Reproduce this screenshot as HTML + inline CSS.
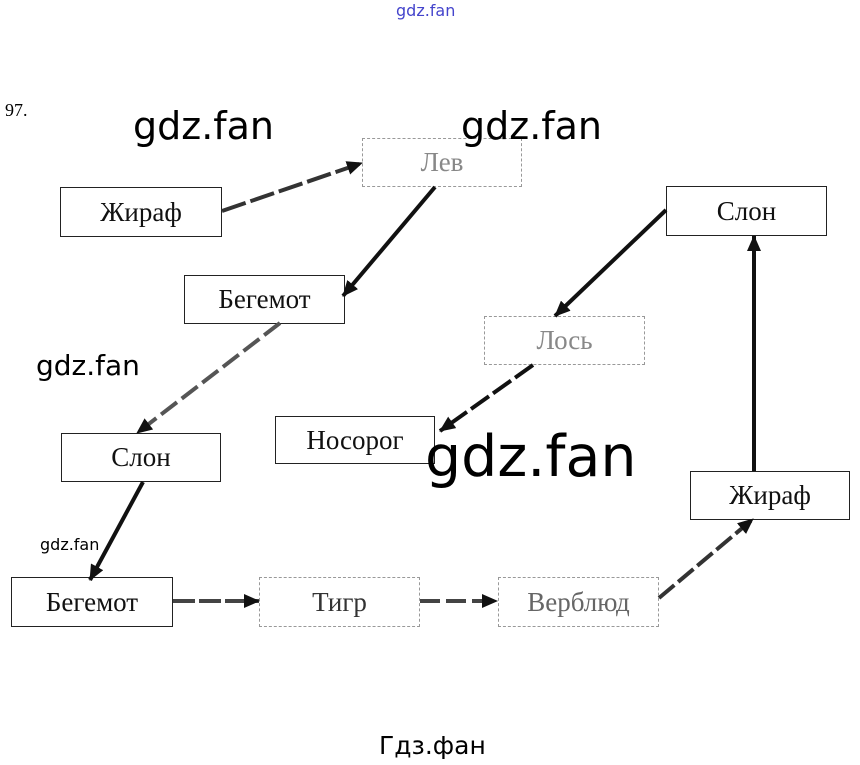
<!DOCTYPE html>
<html><head><meta charset="utf-8"><style>
body{margin:0;width:860px;height:765px;background:#fff;position:relative;overflow:hidden}
.b{position:absolute;box-sizing:border-box;border:1px solid #222;background:#fff;font-family:"Liberation Serif",serif;font-size:27px;display:flex;align-items:center;justify-content:center;color:#111}
.g{border:1px dashed #999;color:#888}
.w{position:absolute;font-family:"DejaVu Sans",sans-serif;color:#000;white-space:nowrap;line-height:1}
svg{position:absolute;left:0;top:0}
</style></head><body>
<div class="w" style="left:396px;top:3px;font-size:16px;color:#44c">gdz.fan</div>
<div style="position:absolute;left:5px;top:100px;font-family:'Liberation Serif',serif;font-size:18px">97.</div>
<div class="b" style="left:60px;top:187px;width:162px;height:50px">Жираф</div>
<div class="b g" style="left:362px;top:138px;width:160px;height:49px">Лев</div>
<div class="b" style="left:184px;top:275px;width:161px;height:49px">Бегемот</div>
<div class="b" style="left:666px;top:186px;width:161px;height:50px">Слон</div>
<div class="b g" style="left:484px;top:316px;width:161px;height:49px">Лось</div>
<div class="b" style="left:275px;top:416px;width:160px;height:48px">Носорог</div>
<div class="b" style="left:61px;top:433px;width:160px;height:49px">Слон</div>
<div class="b" style="left:690px;top:471px;width:160px;height:49px">Жираф</div>
<div class="b" style="left:11px;top:577px;width:162px;height:50px">Бегемот</div>
<div class="b g" style="left:259px;top:577px;width:161px;height:50px;color:#333">Тигр</div>
<div class="b g" style="left:498px;top:577px;width:161px;height:50px;color:#666">Верблюд</div>
<svg width="860" height="765">
<defs><marker id="m" markerWidth="16" markerHeight="14" refX="15" refY="7" orient="auto" markerUnits="userSpaceOnUse"><path d="M0,0L16,7L0,14z" fill="#111"/></marker></defs>
<g stroke-width="4" fill="none" marker-end="url(#m)">
<line x1="222" y1="211" x2="362" y2="163" stroke="#333" stroke-dasharray="25,5"/>
<line x1="435" y1="187" x2="343" y2="296" stroke="#111"/>
<line x1="280" y1="323" x2="137" y2="433" stroke="#555" stroke-dasharray="20,6"/>
<line x1="143" y1="482" x2="90" y2="580" stroke="#111"/>
<line x1="173" y1="601" x2="259" y2="601" stroke="#444" stroke-dasharray="22,4"/>
<line x1="420" y1="601" x2="497" y2="601" stroke="#444" stroke-dasharray="20,6"/>
<line x1="659" y1="598" x2="753" y2="519" stroke="#333" stroke-dasharray="20,5"/>
<line x1="754" y1="471" x2="754" y2="236" stroke="#111"/>
<line x1="666" y1="210" x2="555" y2="316" stroke="#111"/>
<line x1="533" y1="365" x2="440" y2="431" stroke="#111" stroke-dasharray="22,5"/>
</g></svg>
<div class="w" style="left:133px;top:107px;font-size:38px">gdz.fan</div>
<div class="w" style="left:461px;top:107px;font-size:38px">gdz.fan</div>
<div class="w" style="left:36px;top:352px;font-size:28px">gdz.fan</div>
<div class="w" style="left:425px;top:429px;font-size:57px">gdz.fan</div>
<div class="w" style="left:40px;top:537px;font-size:16px">gdz.fan</div>
<div class="w" style="left:379px;top:733px;font-size:25px">Гдз.фан</div>
</body></html>
